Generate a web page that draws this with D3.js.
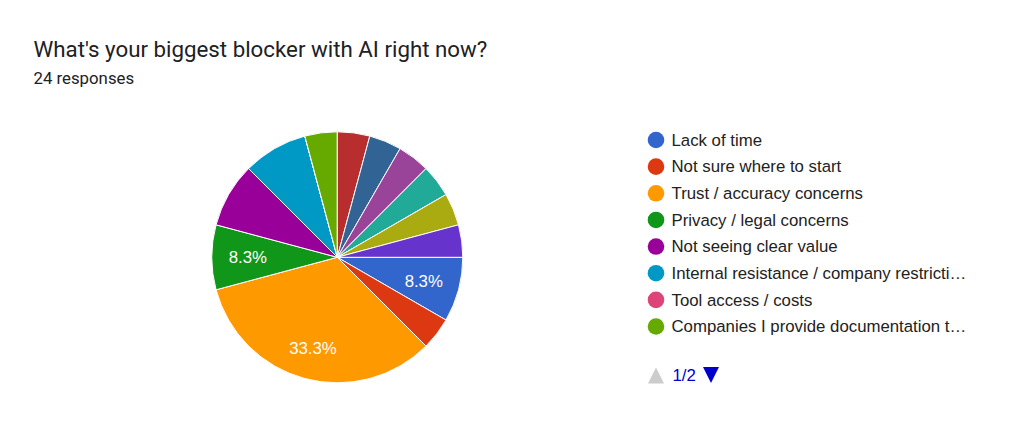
<!DOCTYPE html>
<html>
<head>
<meta charset="utf-8">
<script src="https://cdn.jsdelivr.net/npm/d3@7/dist/d3.min.js"></script>
<style>html,body{margin:0;padding:0;background:#fff;overflow:hidden}svg{display:block}</style>
</head>
<body>
<svg id="chart" width="1024" height="431"></svg>
<script>
const title = "What's your biggest blocker with AI right now?";
const subtitle = "24 responses";
const legendLabels = ["Lack of time","Not sure where to start","Trust / accuracy concerns","Privacy / legal concerns","Not seeing clear value","Internal resistance / company restricti…","Tool access / costs","Companies I provide documentation t…"];
const sliceCounts = [2,1,8,2,2,2,0,1,1,1,1,1,1,1];
const sliceColors = ["#3366cc","#dc3912","#ff9900","#109618","#990099","#0099c6","#dd4477","#66aa00","#b82e2e","#316395","#994499","#22aa99","#aaaa11","#6633cc"];
const labelledSlices = [0,2,3];
const pageLabel = "1/2";

const svg = d3.select("#chart");
svg.append("text").attr("x",33.5).attr("y",57).attr("font-family","Roboto").attr("font-size",22.3).attr("fill","#202124").text(title);
svg.append("text").attr("x",33.5).attr("y",84).attr("font-family","Roboto").attr("font-size",16.8).attr("fill","#202124").text(subtitle);

const cx=337.3, cy=257.3, R=125.5;
const total=d3.sum(sliceCounts);
const pie=d3.pie().value(d=>d).sort(null).startAngle(Math.PI/2).endAngle(Math.PI/2+2*Math.PI);
const arcs=pie(sliceCounts);
const arc=d3.arc().innerRadius(0).outerRadius(R);
const g=svg.append("g").attr("transform",`translate(${cx},${cy})`);
g.selectAll("path").data(arcs).join("path").attr("d",arc).attr("fill",(d,i)=>sliceColors[i]).attr("stroke","#fff").attr("stroke-width",1);

const labelRadius=d=>d.value===8?94:89.5;
g.selectAll("text").data(arcs.filter(d=>labelledSlices.includes(d.index))).join("text")
 .attr("transform",d=>`translate(${d3.arc().innerRadius(labelRadius(d)).outerRadius(labelRadius(d)).centroid(d)})`)
 .attr("text-anchor","middle").attr("dy","0.36em")
 .attr("font-family","Liberation Sans").attr("font-size",16.8).attr("fill","#fff")
 .text(d=>(d.value/total*100).toFixed(1)+"%");

const yL=d3.scalePoint().domain(d3.range(legendLabels.length)).range([140,326.5]);
const lg=svg.append("g");
lg.selectAll("circle").data(legendLabels).join("circle").attr("cx",656).attr("cy",(d,i)=>yL(i)).attr("r",8.3).attr("fill",(d,i)=>sliceColors[i]);
lg.selectAll("text").data(legendLabels).join("text").attr("x",671.5).attr("y",(d,i)=>yL(i)+5.8)
 .attr("font-family","Liberation Sans").attr("font-size",16.8).attr("fill","#222").text(d=>d);

svg.append("path").attr("d","M656 367.5L664 383.5L648 383.5Z").attr("fill","#ccc");
svg.append("text").attr("x",672.5).attr("y",381).attr("font-family","Liberation Sans").attr("font-size",16.8).attr("fill","#0000cc").text(pageLabel);
svg.append("path").attr("d","M703 367L719 367L711 383Z").attr("fill","#0000cc");
</script>
</body>
</html>
